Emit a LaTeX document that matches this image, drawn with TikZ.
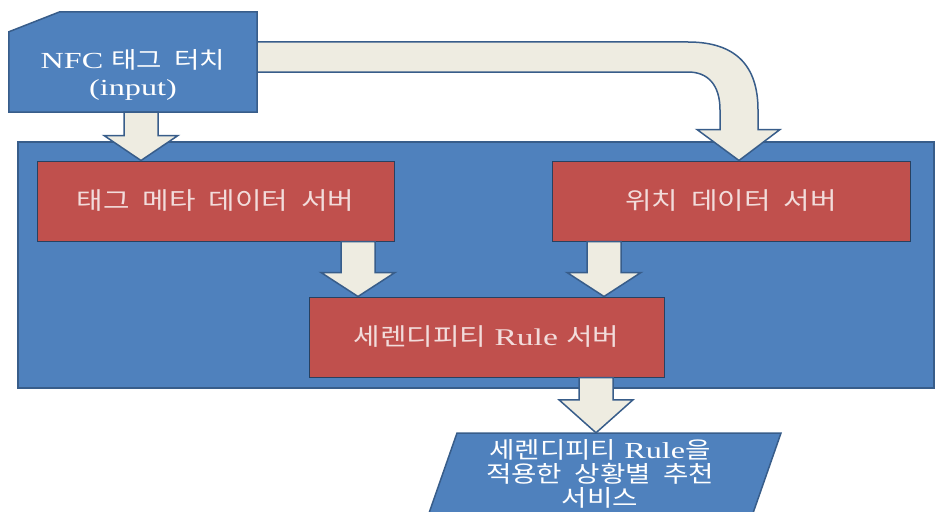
\documentclass[tikz,border=0pt]{standalone}
\usepackage{fontspec}
\setmainfont{Liberation Serif}[FakeStretch=1.4]
\newfontfamily\kr[FakeStretch=1.2,WordSpace=2]{Noto Sans CJK KR}
\usepackage{tikz}
\usetikzlibrary{positioning,calc}

\definecolor{boxblue}{HTML}{4F81BD}
\definecolor{edgeblue}{HTML}{385D8A}
\definecolor{boxred}{HTML}{C0504D}
\definecolor{arrowfill}{HTML}{EEECE1}
\definecolor{redtext}{HTML}{F2DCDB}

% block arrow: start point, tip point (only its y is used)
\newcommand{\blockarrow}[3][25pt]{%
  \draw[fatarrow] let \p1=#2, \p2=#3 in
    (\x1-17pt,\y1) -- (\x1+17pt,\y1) -- (\x1+17pt,\y2+#1) -- (\x1+37pt,\y2+#1)
    -- (\x1,\y2) -- (\x1-37pt,\y2+#1) -- (\x1-17pt,\y2+#1) -- cycle;}

\begin{document}
\begin{tikzpicture}[x=1pt,y=-1pt,
    font=\fontsize{24}{26}\selectfont,
    fatarrow/.style={fill=arrowfill,draw=edgeblue,line width=1.5pt},
    bluebox/.style={fill=boxblue,draw=edgeblue,line width=1.5pt},
    redbox/.style={fill=boxred,draw=edgeblue!70!black,line width=1pt,text=redtext,
      minimum width=357pt,minimum height=80pt,inner sep=0pt}]
        \useasboundingbox (0,0) rectangle (936,511);
        \clip (0,0) rectangle (936,511);

        % Server area
        \node[bluebox,minimum width=916pt,minimum height=246pt] (srv) at (476,265) {};
        \node[redbox] (meta) at (215.5,201) {\kr 태그 메타 데이터 서버};
        \node[redbox,minimum width=358pt] (loc) at (731,201) {\kr 위치 데이터 서버};
        \node[redbox,minimum width=355pt] (rule) at (486.5,337) {{\kr 세렌디피티} Rule {\kr 서버}};

        % Input card
        \node[minimum width=248pt,minimum height=100pt,inner sep=0pt] (nfc) at (133,62) {};

        % Curved arrow to the location server
        \draw[fatarrow] let \p1=([yshift=5pt]nfc.east), \p2=([xshift=8pt]loc.north) in
          (\x1,\y1+15pt) -- (\x2-51pt,\y1+15pt)
          .. controls (\x2-4pt,\y1+15pt) and (\x2+19pt,\y1-8pt) .. (\x2+19pt,\y1-53pt)
          -- (\x2+19pt,\y2+31pt) -- (\x2+41pt,\y2+31pt) -- (\x2,\y2)
          -- (\x2-42pt,\y2+31pt) -- (\x2-19pt,\y2+31pt) -- (\x2-19pt,\y1-53pt)
          .. controls (\x2-19pt,\y1-28pt) and (\x2-31pt,\y1-15pt) .. (\x2-51pt,\y1-15pt)
          -- (\x1,\y1-15pt) -- cycle;

        \draw[bluebox] (nfc.south west) -- (nfc.south east) -- (nfc.north east)
          -- ([xshift=51pt]nfc.north west) -- ([yshift=-20pt]nfc.north west) -- cycle;
        \node[text=white,align=center,font=\fontsize{23}{27}\selectfont] (nfctext)
          at ([yshift=-13pt]nfc.center) {NFC {\kr 태그 터치}\\(input)};

        % Output
        \draw[bluebox] (457,433) -- (781,433) -- (745,536) -- (421,536) -- cycle;
        \node[text=white,align=center,minimum height=82pt,inner sep=0pt,
          font=\fontsize{23}{24}\selectfont] (svc) at (600,474)
          {{\kr 세렌디피티} Rule{\kr 을}\\{\kr 적용한 상황별 추천}\\{\kr 서비스}};

        % Straight arrows
        \blockarrow{([xshift=8pt]nfc.south)}{(meta.north)}
        \blockarrow[24pt]{([xshift=142.5pt]meta.south)}{(rule.north)}
        \blockarrow[24pt]{([xshift=-127pt]loc.south)}{(rule.north)}
        \blockarrow[33pt]{([xshift=109.5pt]rule.south)}{(svc.north)}
    \end{tikzpicture}
\end{document}
